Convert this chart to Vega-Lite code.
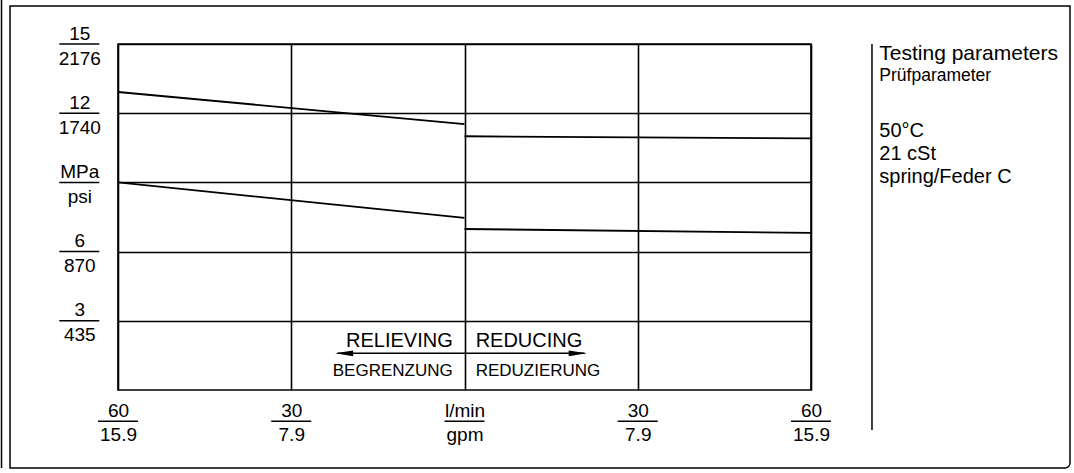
{
  "$schema": "https://vega.github.io/schema/vega-lite/v6.json",
  "width": 693,
  "height": 346,
  "autosize": {"type": "none"},
  "padding": {"left": 118, "top": 44, "right": 263, "bottom": 83},
  "background": "white",
  "config": {
    "view": {"stroke": "black", "strokeWidth": 1.6},
    "font": "Liberation Sans"
  },
  "datasets": {
    "curves": [
      {"branch": "upper", "mode": "relieving", "flow": -60, "pressure": 12.92},
      {"branch": "upper", "mode": "relieving", "flow": 0, "pressure": 11.53},
      {"branch": "upper", "mode": "reducing", "flow": 0, "pressure": 11.0},
      {"branch": "upper", "mode": "reducing", "flow": 60, "pressure": 10.91},
      {"branch": "lower", "mode": "relieving", "flow": -60, "pressure": 9.0},
      {"branch": "lower", "mode": "relieving", "flow": 0, "pressure": 7.46},
      {"branch": "lower", "mode": "reducing", "flow": 0, "pressure": 6.98},
      {"branch": "lower", "mode": "reducing", "flow": 60, "pressure": 6.81}
    ],
    "flowTicks": [{"flow": -60}, {"flow": -30}, {"flow": 0}, {"flow": 30}, {"flow": 60}],
    "pressureTicks": [{"pressure": 3}, {"pressure": 6}, {"pressure": 9}, {"pressure": 12}, {"pressure": 15}]
  },
  "layer": [
    {
      "data": {"name": "curves"},
      "mark": {"type": "line", "color": "black", "strokeWidth": 1.8},
      "encoding": {
        "x": {
          "field": "flow", "type": "quantitative",
          "scale": {"domain": [-60, 60], "nice": false, "zero": false},
          "axis": {
            "values": [-60, -30, 0, 30, 60], "title": null,
            "grid": true, "gridColor": "black", "gridWidth": 1.6, "gridOpacity": 1,
            "domain": false, "ticks": false, "tickSize": 0,
            "labelPadding": 20, "labelBaseline": "middle", "labelAlign": "center",
            "labelLineHeight": 24, "labelFontSize": 19, "labelColor": "black",
            "labelFont": "Liberation Sans", "labelOverlap": false, "labelBound": false, "labelFlush": false,
            "labelExpr": "datum.value == 0 ? ['l/min', 'gpm'] : abs(datum.value) == 30 ? ['30', '7.9'] : ['60', '15.9']"
          }
        },
        "y": {
          "field": "pressure", "type": "quantitative",
          "scale": {"domain": [0, 15], "nice": false, "zero": false},
          "axis": {
            "values": [3, 6, 9, 12, 15], "title": null,
            "grid": true, "gridColor": "black", "gridWidth": 1.6, "gridOpacity": 1,
            "domain": false, "ticks": false, "tickSize": 0,
            "labelPadding": 38.7, "labelBaseline": "middle", "labelAlign": "center",
            "labelLineHeight": 25, "labelOffset": -11, "labelFontSize": 19, "labelColor": "black",
            "labelFont": "Liberation Sans", "labelOverlap": false, "labelBound": false, "labelFlush": false,
            "labelExpr": "datum.value == 15 ? ['15', '2176'] : datum.value == 12 ? ['12', '1740'] : datum.value == 9 ? ['MPa', 'psi'] : datum.value == 6 ? ['6', '870'] : ['3', '435']"
          }
        },
        "detail": [{"field": "branch", "type": "nominal"}, {"field": "mode", "type": "nominal"}]
      }
    },
    {
      "data": {"name": "flowTicks"},
      "mark": {"type": "tick", "orient": "horizontal", "size": 40, "thickness": 1.5, "color": "black", "opacity": 1},
      "encoding": {
        "x": {"field": "flow", "type": "quantitative"},
        "y": {"datum": -1.357, "type": "quantitative"}
      }
    },
    {
      "data": {"name": "pressureTicks"},
      "mark": {"type": "tick", "orient": "horizontal", "size": 40, "thickness": 1.5, "color": "black", "opacity": 1},
      "encoding": {
        "y": {"field": "pressure", "type": "quantitative"},
        "x": {"datum": -66.7, "type": "quantitative"}
      }
    },
    {
      "data": {"values": [{}]},
      "mark": {"type": "rule", "color": "black", "strokeWidth": 1.5},
      "encoding": {
        "x": {"datum": -22.0, "type": "quantitative"},
        "x2": {"datum": 20.8},
        "y": {"datum": 1.59, "type": "quantitative"}
      }
    },
    {
      "data": {"values": [{}]},
      "mark": {"type": "point", "shape": "M0,0 L4,-0.65 L4,0.65 Z", "size": 81, "filled": true, "color": "black", "opacity": 1, "strokeWidth": 0},
      "encoding": {
        "x": {"datum": -22.4, "type": "quantitative"},
        "y": {"datum": 1.59, "type": "quantitative"}
      }
    },
    {
      "data": {"values": [{}]},
      "mark": {"type": "point", "shape": "M0,0 L-4,-0.65 L-4,0.65 Z", "size": 81, "filled": true, "color": "black", "opacity": 1, "strokeWidth": 0},
      "encoding": {
        "x": {"datum": 21.16, "type": "quantitative"},
        "y": {"datum": 1.59, "type": "quantitative"}
      }
    },
    {
      "data": {"values": [{}]},
      "mark": {"type": "text", "text": "RELIEVING", "align": "right", "baseline": "alphabetic", "fontSize": 20, "font": "Liberation Sans", "color": "black"},
      "encoding": {
        "x": {"datum": -2.04, "type": "quantitative"},
        "y": {"datum": 1.877, "type": "quantitative"}
      }
    },
    {
      "data": {"values": [{}]},
      "mark": {"type": "text", "text": "REDUCING", "align": "left", "baseline": "alphabetic", "fontSize": 20, "font": "Liberation Sans", "color": "black"},
      "encoding": {
        "x": {"datum": 1.93, "type": "quantitative"},
        "y": {"datum": 1.877, "type": "quantitative"}
      }
    },
    {
      "data": {"values": [{}]},
      "mark": {"type": "text", "text": "BEGRENZUNG", "align": "right", "baseline": "alphabetic", "fontSize": 17, "font": "Liberation Sans", "color": "black"},
      "encoding": {
        "x": {"datum": -2.04, "type": "quantitative"},
        "y": {"datum": 0.62, "type": "quantitative"}
      }
    },
    {
      "data": {"values": [{}]},
      "mark": {"type": "text", "text": "REDUZIERUNG", "align": "left", "baseline": "alphabetic", "fontSize": 17, "font": "Liberation Sans", "color": "black"},
      "encoding": {
        "x": {"datum": 1.93, "type": "quantitative"},
        "y": {"datum": 0.62, "type": "quantitative"}
      }
    },
    {
      "data": {"values": [{}]},
      "mark": {"type": "rule", "color": "black", "strokeWidth": 1.5},
      "encoding": {
        "x": {"datum": 70.56, "type": "quantitative"},
        "y": {"datum": 15, "type": "quantitative"},
        "y2": {"datum": -1.734}
      }
    },
    {
      "data": {"values": [{}]},
      "mark": {"type": "text", "text": "Testing parameters", "align": "left", "baseline": "alphabetic", "fontSize": 21, "font": "Liberation Sans", "color": "black"},
      "encoding": {
        "x": {"datum": 71.83, "type": "quantitative"},
        "y": {"datum": 14.293, "type": "quantitative"}
      }
    },
    {
      "data": {"values": [{}]},
      "mark": {"type": "text", "text": "Prüfparameter", "align": "left", "baseline": "alphabetic", "fontSize": 17.5, "font": "Liberation Sans", "color": "black"},
      "encoding": {
        "x": {"datum": 71.83, "type": "quantitative"},
        "y": {"datum": 13.4, "type": "quantitative"}
      }
    },
    {
      "data": {"values": [{}]},
      "mark": {"type": "text", "text": ["50°C", "21 cSt", "spring/Feder C"], "lineHeight": 23, "align": "left", "baseline": "alphabetic", "fontSize": 20, "font": "Liberation Sans", "color": "black"},
      "encoding": {
        "x": {"datum": 71.83, "type": "quantitative"},
        "y": {"datum": 10.968, "type": "quantitative"}
      }
    },
    {
      "data": {"values": [{}]},
      "mark": {"type": "rect", "filled": false, "stroke": "black", "strokeWidth": 1.5, "cornerRadiusBottomRight": 5},
      "encoding": {
        "x": {"datum": -78.7, "type": "quantitative"},
        "x2": {"datum": 104.85},
        "y": {"datum": 16.647, "type": "quantitative"},
        "y2": {"datum": -3.38}
      }
    },
    {
      "data": {"values": [{}]},
      "mark": {"type": "rule", "color": "black", "strokeWidth": 1.5},
      "encoding": {
        "x": {"datum": -80.17, "type": "quantitative"},
        "y": {"datum": 16.907, "type": "quantitative"},
        "y2": {"datum": -3.38}
      }
    }
  ]
}
